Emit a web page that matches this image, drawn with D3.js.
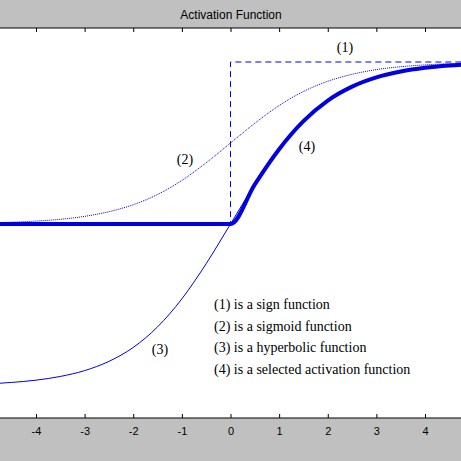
<!DOCTYPE html>
<html><head><meta charset="utf-8"><script src="https://cdn.jsdelivr.net/npm/d3@7"></script>
<style>body{margin:0;background:#c0c0c0}svg{display:block}</style></head>
<body><svg id="c" width="461" height="461"></svg>
<script>
const xs = [-5,-4.5,-4,-3.5,-3,-2.5,-2,-1.5,-1,-0.5,0,0.5,1,1.5,2,2.5,3,3.5,4,4.5,5];
const tanhVals = [-0.987,-0.978,-0.964,-0.941,-0.905,-0.848,-0.762,-0.635,-0.462,-0.245,0,0.245,0.462,0.635,0.762,0.848,0.905,0.941,0.964,0.978,0.987];
const sigVals = [0.007,0.011,0.018,0.029,0.047,0.076,0.119,0.182,0.269,0.378,0.5,0.622,0.731,0.818,0.881,0.924,0.953,0.971,0.982,0.989,0.993];
const selVals = [0,0,0,0,0,0,0,0,0,0,0,0.245,0.462,0.635,0.762,0.848,0.905,0.941,0.964,0.978,0.987];
const signX = [-5,0,0,5];
const signY = [0,0,1,1];
const xTicks = [-4,-3,-2,-1,0,1,2,3,4];
const labels = ["(1) is a sign function","(2) is a sigmoid function","(3) is a hyperbolic function","(4) is a selected activation function"];

const svg = d3.select("#c");
const L=-1,R=462,T=28,B=418;
const x = d3.scaleLinear().domain([-4.74,4.74]).range([0,461]);
const y = d3.scaleLinear().domain([-1,1]).range([386,62]);
svg.append("text").attr("x",231).attr("y",19).attr("text-anchor","middle")
  .attr("font-family","Liberation Sans, Arial").attr("font-size",12).text("Activation Function");
svg.append("rect").attr("x",L).attr("y",T).attr("width",R-L).attr("height",B-T).attr("fill","#fff").attr("stroke","#000");
const g = svg.append("g");
g.append("clipPath").attr("id","cp").append("rect").attr("x",0).attr("y",T).attr("width",461).attr("height",B-T);
const plot = g.append("g").attr("clip-path","url(#cp)");
const line = (X,Y,curve)=>d3.line().x((d,i)=>x(X[i])).y((d,i)=>y(Y[i])).curve(curve)(X);
const col="#0000e0";
plot.append("path").attr("d",line(xs,sigVals,d3.curveMonotoneX)).attr("fill","none").attr("stroke",col).attr("stroke-width",1).attr("stroke-dasharray","1,1");
plot.append("path").attr("d",line(xs,tanhVals,d3.curveMonotoneX)).attr("fill","none").attr("stroke",col).attr("stroke-width",1);
plot.append("path").attr("d",line(signX,signY,d3.curveLinear)).attr("fill","none").attr("stroke",col).attr("stroke-width",1).attr("stroke-dasharray","6,4");
plot.append("path").attr("d",line(xs,selVals,d3.curveMonotoneX)).attr("fill","none").attr("stroke",col).attr("stroke-width",4);
const ax = svg.append("g").attr("transform",`translate(0,${B})`)
  .call(d3.axisBottom(x).tickValues(xTicks).tickSizeInner(-4).tickSizeOuter(0).tickPadding(9).tickFormat(d=>String(d)));
ax.select(".domain").remove();
ax.selectAll("text").attr("font-family","Liberation Sans, Arial").attr("font-size",11).attr("fill","#000");
svg.append("g").attr("transform",`translate(0,${T})`).call(d3.axisTop(x).tickValues(xTicks).tickSizeInner(-4).tickSizeOuter(0).tickFormat(""))
  .select(".domain").remove();
const serif="Liberation Serif, Times New Roman";
const ann=[["(1)",345,52],["(2)",185,164],["(3)",160,354],["(4)",307,151]];
ann.forEach(a=>svg.append("text").attr("x",a[1]).attr("y",a[2]).attr("text-anchor","middle").attr("font-family",serif).attr("font-size",14).text(a[0]));
labels.forEach((t,i)=>svg.append("text").attr("x",214).attr("y",309+i*21.5).attr("font-family",serif).attr("font-size",14).text(t));
</script></body></html>
